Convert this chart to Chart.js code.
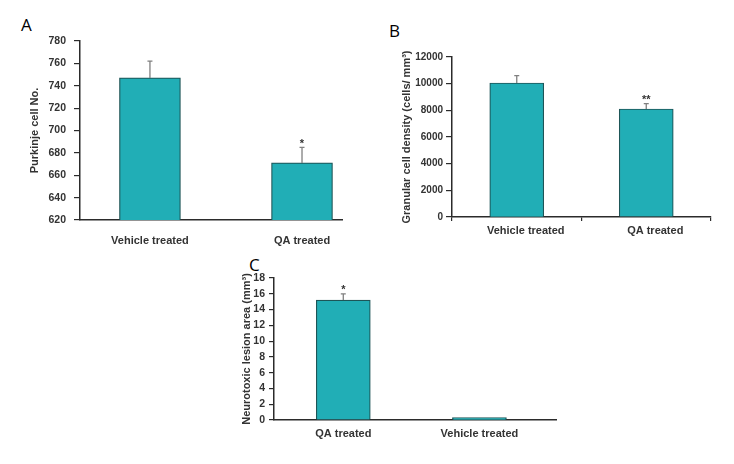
<!DOCTYPE html>
<html>
<head>
<meta charset="utf-8">
<script src="https://cdn.jsdelivr.net/npm/chart.js@4.4.1/dist/chart.umd.min.js"></script>
<style>
  html, body { margin: 0; padding: 0; background: #ffffff; }
  body { width: 734px; height: 464px; position: relative; overflow: hidden; }
  canvas { position: absolute; }
  .letter { position: absolute; font-family: "Open Sans", "Liberation Sans", sans-serif; font-size: 17px; line-height: 17px; color: #000; }
</style>
</head>
<body>
<div class="letter" style="left:21px; top:16px;">A</div>
<div class="letter" style="left:389px; top:22px;">B</div>
<div class="letter" style="left:249px; top:256px;">C</div>
<canvas id="chartA" width="370" height="255" style="left:0px; top:0px;"></canvas>
<canvas id="chartB" width="354" height="250" style="left:380px; top:0px;"></canvas>
<canvas id="chartC" width="340" height="200" style="left:230px; top:255px;"></canvas>
<script>
// ---- Panel A: Purkinje cell number ----
const categoriesA = ['Vehicle treated', 'QA treated'];
const valuesA = [747, 671];
const errorsA = [15, 14];
const signifA = ['', '*'];
const yTicksA = [620, 640, 660, 680, 700, 720, 740, 760, 780];

// ---- Panel B: Granular cell density ----
const categoriesB = ['Vehicle treated', 'QA treated'];
const valuesB = [10050, 8100];
const errorsB = [550, 400];
const signifB = ['', '**'];
const yTicksB = [0, 2000, 4000, 6000, 8000, 10000, 12000];

// ---- Panel C: Neurotoxic lesion area ----
const categoriesC = ['QA treated', 'Vehicle treated'];
const valuesC = [15.2, 0.3];
const errorsC = [0.8, 0];
const signifC = ['*', ''];
const yTicksC = [0, 2, 4, 6, 8, 10, 12, 14, 16, 18];

const FONT = '"Liberation Sans", Arial, Helvetica, sans-serif';
const AXIS = '#2b2b2b';
const TEXT = '#333333';
const BAR_FILL = '#21aeb6';
const BAR_EDGE = '#1d5557';
const ERR = '#808080';

const errorBarPlugin = {
  id: 'errorBars',
  afterDatasetsDraw(chart, args, opts) {
    const ctx = chart.ctx;
    const yScale = chart.scales.y;
    const meta = chart.getDatasetMeta(0);
    const ds = chart.data.datasets[0];
    ctx.save();
    meta.data.forEach((bar, i) => {
      const v = ds.data[i].y !== undefined ? ds.data[i].y : ds.data[i];
      const e = opts.errors[i];
      const topY = yScale.getPixelForValue(v + e);
      if (e > 0) {
        ctx.strokeStyle = ERR;
        ctx.lineWidth = 1.3;
        ctx.beginPath();
        ctx.moveTo(bar.x, bar.y);
        ctx.lineTo(bar.x, topY);
        ctx.moveTo(bar.x - 2.5, topY);
        ctx.lineTo(bar.x + 2.5, topY);
        ctx.stroke();
      }
      const s = opts.signif[i];
      if (s) {
        ctx.fillStyle = TEXT;
        ctx.font = 'bold 11px ' + FONT;
        ctx.textAlign = 'center';
        ctx.textBaseline = 'alphabetic';
        ctx.fillText(s, bar.x, topY - 0.5);
      }
    });
    ctx.restore();
  }
};

function makePanel(id, cfg) {
  const linearX = !!cfg.xRange;
  const data = linearX
    ? cfg.categories.map((c, i) => ({ x: i, y: cfg.values[i] }))
    : cfg.values.slice();
  const xScale = linearX ? {
    type: 'linear',
    min: cfg.xRange[0],
    max: cfg.xRange[1],
    offset: false,
    afterBuildTicks: (s) => { s.ticks = cfg.categories.map((_, i) => ({ value: i })); },
    afterFit: (s) => { s.height = cfg.xHeight; },
    grid: { display: true, drawOnChartArea: false, drawTicks: false, offset: false },
    border: { display: true, color: AXIS, width: 1.5 },
    ticks: {
      callback: (v) => cfg.categories[v] !== undefined ? cfg.categories[v] : '',
      font: { family: FONT, size: 11, weight: 'bold' },
      color: TEXT,
      padding: cfg.xPad,
      maxRotation: 0,
      autoSkip: false
    }
  } : {
    type: 'category',
    offset: true,
    afterFit: (s) => { s.height = cfg.xHeight; },
    grid: { display: true, drawOnChartArea: false, drawTicks: true, tickLength: 4, offset: true, color: AXIS, lineWidth: 1.2 },
    border: { display: true, color: AXIS, width: 1.5 },
    ticks: {
      font: { family: FONT, size: 11, weight: 'bold' },
      color: TEXT,
      padding: cfg.xPad,
      labelOffset: cfg.labelOffset || 0,
      maxRotation: 0,
      autoSkip: false
    }
  };
  return new Chart(document.getElementById(id), {
    type: 'bar',
    data: {
      labels: cfg.categories,
      datasets: [{
        data: data,
        backgroundColor: BAR_FILL,
        borderColor: BAR_EDGE,
        borderWidth: 1.2,
        barThickness: cfg.barWidth
      }]
    },
    options: {
      responsive: false,
      animation: false,
      devicePixelRatio: 1,
      layout: { padding: { left: 0, top: cfg.padTop, right: cfg.padRight, bottom: 0 } },
      plugins: {
        legend: { display: false },
        tooltip: { enabled: false },
        errorBars: { errors: cfg.errors, signif: cfg.signif }
      },
      scales: {
        x: xScale,
        y: {
          type: 'linear',
          min: cfg.yTicks[0],
          max: cfg.yTicks[cfg.yTicks.length - 1],
          afterFit: (s) => { s.width = cfg.yWidth; },
          afterBuildTicks: (s) => { s.ticks = cfg.yTicks.map((v) => ({ value: v })); },
          grid: { display: true, drawOnChartArea: false, drawTicks: true, tickLength: cfg.yTickLen, color: AXIS, lineWidth: 1.2 },
          border: { display: true, color: AXIS, width: 1.5 },
          ticks: {
            callback: (v) => String(v),
            font: { family: FONT, size: cfg.yFont, weight: 'bold' },
            color: TEXT,
            padding: cfg.yPad,
            autoSkip: false
          },
          title: {
            display: true,
            text: cfg.yTitle,
            font: { family: FONT, size: 11, weight: 'bold' },
            color: TEXT,
            padding: { top: cfg.titlePad, bottom: 0 }
          }
        }
      }
    },
    plugins: [errorBarPlugin]
  });
}

makePanel('chartA', {
  categories: categoriesA, values: valuesA, errors: errorsA, signif: signifA, yTicks: yTicksA,
  yTitle: 'Purkinje cell No.',
  xRange: [-0.46, 1.263],
  yWidth: 80, padTop: 41, padRight: 28, xHeight: 35, xPad: 14,
  yTickLen: 6, yPad: 8, titlePad: 28.4, barWidth: 61, yFont: 10.5
});

makePanel('chartB', {
  categories: categoriesB, values: valuesB, errors: errorsB, signif: signifB, yTicks: yTicksB,
  yTitle: 'Granular cell density (cells/ mm\u00B3)',
  yWidth: 72, padTop: 57, padRight: 23, xHeight: 33, xPad: 3.4, labelOffset: 9,
  yTickLen: 6, yPad: 3, titlePad: 20, barWidth: 54, yFont: 10
});

makePanel('chartC', {
  categories: categoriesC, values: valuesC, errors: errorsC, signif: signifC, yTicks: yTicksC,
  yTitle: 'Neurotoxic lesion area (mm\u00B3)',
  xRange: [-0.509, 1.5625],
  yWidth: 44, padTop: 23, padRight: 14, xHeight: 35, xPad: 7.4,
  yTickLen: 5, yPad: 4, titlePad: 10, barWidth: 54, yFont: 10.5
});
</script>
</body>
</html>
